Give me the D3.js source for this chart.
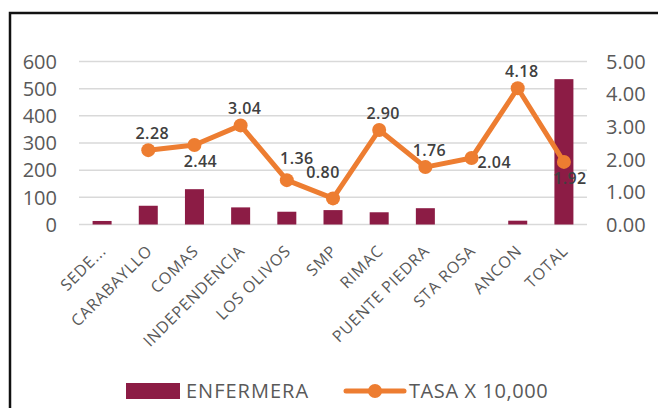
<html>
<head>
<script src="https://d3js.org/d3.v7.min.js"></script>
<style>
  body { margin: 0; background: #fff; }
  text { font-family: "Open Sans", sans-serif; }
</style>
</head>
<body>
<script>
  // data
  var categories = ["SEDE...", "CARABAYLLO", "COMAS", "INDEPENDENCIA", "LOS OLIVOS", "SMP",
                    "RIMAC", "PUENTE PIEDRA", "STA ROSA", "ANCON", "TOTAL"];
  var enfermera = [13, 69, 130, 63, 47, 53, 45, 60, 0, 14, 535];
  var tasa = [null, 2.28, 2.44, 3.04, 1.36, 0.80, 2.90, 1.76, 2.04, 4.18, 1.92];
  var leftTicks = [0, 100, 200, 300, 400, 500, 600];
  var rightTicks = [0, 1, 2, 3, 4, 5];
  // where each rate label sits relative to its point
  var labelPlace = ["", "above", "below", "above", "aboveR", "aboveL", "above", "above", "right", "above", "below"];

  var svgWidth = 658, svgHeight = 408;
  var plotLeft = 79, plotRight = 587, plotTop = 61.5, plotBottom = 224.5;

  var svg = d3.select("body").append("svg")
    .attr("width", svgWidth)
    .attr("height", svgHeight);

  svg.append("rect")
    .attr("width", svgWidth).attr("height", svgHeight)
    .style("fill", "white");

  // outer frame (only left and top visible)
  svg.append("path")
    .attr("d", "M10," + svgHeight + "V13H" + svgWidth)
    .style("fill", "none")
    .style("stroke", "#111")
    .style("stroke-width", 2.5);

  var x = d3.scaleBand().domain(categories).range([plotLeft, plotRight]).paddingInner(0).paddingOuter(0);
  var yLeft = d3.scaleLinear().domain([0, 600]).range([plotBottom, plotTop]);
  var yRight = d3.scaleLinear().domain([0, 5]).range([plotBottom, plotTop]);

  // gridlines
  svg.append("g").selectAll("line").data(leftTicks).enter().append("line")
    .attr("x1", plotLeft).attr("x2", plotRight)
    .attr("y1", function(d) { return yLeft(d); })
    .attr("y2", function(d) { return yLeft(d); })
    .style("stroke", "#d9d9d9")
    .style("stroke-width", 1.5);

  // left axis labels
  svg.append("g").selectAll("text").data(leftTicks).enter().append("text")
    .attr("x", 57)
    .attr("y", function(d) { return yLeft(d); })
    .attr("dy", "0.36em")
    .attr("text-anchor", "end")
    .style("font-size", "20px")
    .style("fill", "#595959")
    .text(function(d) { return d; });

  // right axis labels
  svg.append("g").selectAll("text").data(rightTicks).enter().append("text")
    .attr("x", 606)
    .attr("y", function(d) { return yRight(d); })
    .attr("dy", "0.36em")
    .attr("text-anchor", "start")
    .style("font-size", "20px")
    .style("fill", "#595959")
    .text(function(d) { return d3.format(".2f")(d); });

  // bars
  var barW = 19;
  svg.append("g").selectAll("rect").data(enfermera).enter().append("rect")
    .attr("x", function(d, i) { return x(categories[i]) + x.bandwidth() / 2 - barW / 2; })
    .attr("y", function(d) { return yLeft(d); })
    .attr("width", barW)
    .attr("height", function(d) { return plotBottom - yLeft(d); })
    .style("fill", "#8c1c45");

  // category labels
  svg.append("g").selectAll("text").data(categories).enter().append("text")
    .attr("transform", function(d) {
      return "translate(" + (x(d) + x.bandwidth() / 2 + 5) + ",252) rotate(-45)";
    })
    .attr("text-anchor", "end")
    .style("font-size", "16px")
    .style("letter-spacing", "0.8px")
    .style("fill", "#595959")
    .text(function(d) { return d; });

  // rate line
  var pts = tasa.map(function(v, i) { return { v: v, c: categories[i], i: i }; })
    .filter(function(d) { return d.v !== null; });
  var line = d3.line()
    .x(function(d) { return x(d.c) + x.bandwidth() / 2; })
    .y(function(d) { return yRight(d.v); });

  svg.append("path")
    .datum(pts)
    .attr("d", line)
    .style("fill", "none")
    .style("stroke", "#ed7d31")
    .style("stroke-width", 5)
    .style("stroke-linejoin", "round");

  svg.append("g").selectAll("circle").data(pts).enter().append("circle")
    .attr("cx", function(d) { return x(d.c) + x.bandwidth() / 2; })
    .attr("cy", function(d) { return yRight(d.v); })
    .attr("r", 7)
    .style("fill", "#ed7d31");

  // rate labels
  var offs = {
    above: [4, -11, "middle"], below: [6, 22, "middle"], aboveR: [10, -16, "middle"],
    aboveL: [-10, -20, "middle"], right: [6, 10, "start"]
  };
  svg.append("g").selectAll("text").data(pts).enter().append("text")
    .attr("x", function(d) { return x(d.c) + x.bandwidth() / 2 + offs[labelPlace[d.i]][0]; })
    .attr("y", function(d) { return yRight(d.v) + offs[labelPlace[d.i]][1]; })
    .attr("text-anchor", function(d) { return offs[labelPlace[d.i]][2]; })
    .style("font-size", "16px")
    .style("font-weight", 600)
    .style("letter-spacing", "0.4px")
    .style("fill", "#404040")
    .text(function(d) { return d3.format(".2f")(d.v); });

  // legend
  var legend = svg.append("g");
  legend.append("rect")
    .attr("x", 126).attr("y", 383).attr("width", 54).attr("height", 16)
    .style("fill", "#8c1c45");
  legend.append("text")
    .attr("x", 186).attr("y", 398)
    .style("font-size", "20px").style("letter-spacing", "1px").style("fill", "#595959")
    .text("ENFERMERA");
  legend.append("line")
    .attr("x1", 346).attr("x2", 404).attr("y1", 391).attr("y2", 391)
    .style("stroke", "#ed7d31").style("stroke-width", 5).style("stroke-linecap", "round");
  legend.append("circle")
    .attr("cx", 375).attr("cy", 391).attr("r", 7)
    .style("fill", "#ed7d31");
  legend.append("text")
    .attr("x", 409).attr("y", 398)
    .style("font-size", "20px").style("letter-spacing", "0.6px").style("fill", "#595959")
    .text("TASA X 10,000");
</script>
</body>
</html>
